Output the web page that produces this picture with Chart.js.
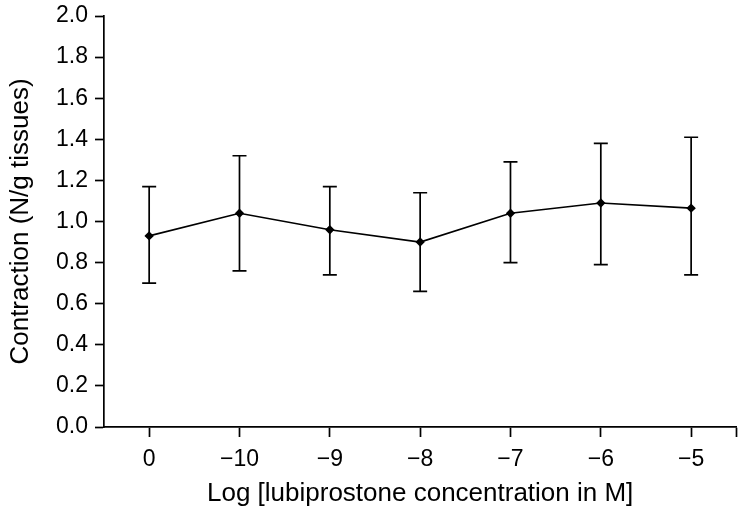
<!DOCTYPE html>
<html>
<head>
<meta charset="utf-8">
<script src="https://cdn.jsdelivr.net/npm/chart.js@4.4.0/dist/chart.umd.min.js"></script>
<style>
  html, body { margin: 0; padding: 0; background: #fff; }
  #wrap { width: 742px; height: 513px; }
</style>
</head>
<body>
<div id="wrap"><canvas id="chart" width="742" height="513"></canvas></div>
<script>
// x categories (log concentration), mean and error bar ends
const concLabels = ['0', '\u221210', '\u22129', '\u22128', '\u22127', '\u22126', '\u22125'];
const meanValues = [0.93, 1.04, 0.96, 0.90, 1.04, 1.09, 1.065];
const upperValues = [1.17, 1.32, 1.17, 1.14, 1.29, 1.38, 1.41];
const lowerValues = [0.70, 0.76, 0.74, 0.66, 0.80, 0.79, 0.74];
const yTicks = [0, 0.2, 0.4, 0.6, 0.8, 1.0, 1.2, 1.4, 1.6, 1.8, 2.0];

const FONT = '"Liberation Sans", Arial, sans-serif';

// draws the vertical error bars with caps
const errorBars = {
  id: 'errorBars',
  afterDatasetsDraw(chart) {
    const ctx = chart.ctx;
    const xs = chart.scales.x;
    const ys = chart.scales.y;
    ctx.save();
    ctx.strokeStyle = '#000';
    ctx.lineWidth = 1.7;
    for (let i = 0; i < meanValues.length; i++) {
      const px = xs.getPixelForValue(i);
      const top = ys.getPixelForValue(upperValues[i]);
      const bot = ys.getPixelForValue(lowerValues[i]);
      ctx.beginPath();
      ctx.moveTo(px, top); ctx.lineTo(px, bot);
      ctx.moveTo(px - 7, top); ctx.lineTo(px + 7, top);
      ctx.moveTo(px - 7, bot); ctx.lineTo(px + 7, bot);
      ctx.stroke();
    }
    ctx.restore();
  }
};

new Chart(document.getElementById('chart').getContext('2d'), {
  type: 'line',
  data: {
    datasets: [{
      data: meanValues.map((v, i) => ({ x: i, y: v })),
      borderColor: '#000',
      backgroundColor: '#000',
      borderWidth: 1.7,
      pointStyle: 'rectRot',
      pointRadius: 3.5,
      tension: 0
    }]
  },
  options: {
    responsive: false,
    animation: false,
    layout: { padding: { top: 16, right: 5, left: 0, bottom: 0 } },
    plugins: { legend: { display: false }, tooltip: { enabled: false } },
    scales: {
      x: {
        type: 'linear',
        min: -0.5,
        max: 6.5,
        afterBuildTicks: (scale) => {
          // one tick per concentration plus the closing tick at the right end
          scale.ticks = concLabels.map((l, i) => ({ value: i })).concat([{ value: 6.5 }]);
        },
        afterFit: (scale) => {
          scale.height = 86;
          scale.paddingLeft = 0;
          scale.paddingRight = 0;
        },
        ticks: {
          color: '#000',
          font: { family: FONT, size: 23 },
          padding: 9,
          maxRotation: 0,
          autoSkip: false,
          callback: (v) => (Number.isInteger(v) ? concLabels[v] : '')
        },
        grid: { drawOnChartArea: false, tickLength: 10, tickColor: '#000', tickWidth: 1.7 },
        border: { color: '#000', width: 1.7 },
        title: {
          display: true,
          text: 'Log [lubiprostone concentration in M]',
          color: '#000',
          font: { family: FONT, size: 26 },
          padding: { top: 2, bottom: 4 }
        }
      },
      y: {
        min: 0,
        max: 2.0,
        afterBuildTicks: (scale) => { scale.ticks = yTicks.map(v => ({ value: v })); },
        afterFit: (scale) => {
          scale.width = 104;
          scale.paddingTop = 0;
          scale.paddingBottom = 0;
        },
        ticks: {
          color: '#000',
          font: { family: FONT, size: 23 },
          padding: 7,
          callback: (v) => v.toFixed(1)
        },
        grid: { drawOnChartArea: false, tickLength: 9, tickColor: '#000', tickWidth: 1.7 },
        border: { color: '#000', width: 1.7 },
        title: {
          display: true,
          text: 'Contraction (N/g tissues)',
          color: '#000',
          font: { family: FONT, size: 26 },
          padding: { top: 5, bottom: 0 }
        }
      }
    }
  },
  plugins: [errorBars]
});
</script>
</body>
</html>
